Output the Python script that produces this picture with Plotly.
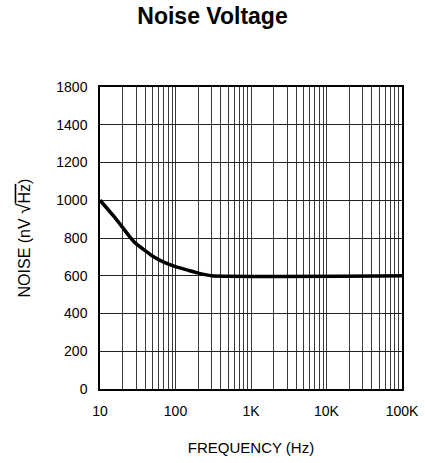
import plotly.graph_objects as go

# Data
freq_hz = [10, 15, 20, 25, 30, 40, 50, 70, 100, 150, 200, 300, 100000]
noise_nv = [1000, 918, 855, 805, 770, 732, 703, 672, 648, 628, 614, 600, 600]

x_tick_vals = [10, 100, 1000, 10000, 100000]
x_tick_text = ["10", "100", "1K", "10K", "100K"]
y_tick_vals = [0, 200, 400, 600, 800, 1000, 1200, 1400, 1600]
y_tick_text = ["0", "200", "400", "600", "800", "1000", "1200", "1400", "1800"]

minor_vals = [m * d for d in (10, 100, 1000, 10000) for m in range(2, 10)]

font_ticks = "Liberation Sans"
grid_col = "#3a3a3a"

fig = go.Figure()
fig.add_trace(go.Scatter(
    x=freq_hz, y=noise_nv, mode="lines",
    line=dict(color="black", width=3.5, shape="spline", smoothing=0.5),
    showlegend=False, hoverinfo="skip",
))

fig.update_layout(
    width=425, height=463,
    margin=dict(l=100, r=23, t=87, b=74),
    paper_bgcolor="white", plot_bgcolor="white",
    title=dict(text="<b>Noise Voltage</b>", x=0.5, xanchor="center",
               y=1 - 16 / 463, yanchor="middle",
               font=dict(family="Liberation Sans", size=23, color="black")),
    xaxis=dict(
        type="log", range=[1, 5],
        tickmode="array", tickvals=x_tick_vals, ticktext=x_tick_text,
        showgrid=True, gridcolor=grid_col, gridwidth=1,
        minor=dict(tickvals=minor_vals, showgrid=True, gridcolor=grid_col, gridwidth=1, ticklen=0),
        ticks="", showline=True, linecolor="black", linewidth=1.5, mirror=True,
        tickfont=dict(family=font_ticks, size=14, color="black"),
        ticklabelstandoff=8,
        title=dict(text="FREQUENCY (Hz)", standoff=25,
                   font=dict(family=font_ticks, size=15, color="black")),
        zeroline=False, fixedrange=True, automargin=False,
    ),
    yaxis=dict(
        range=[0, 1600],
        tickmode="array", tickvals=y_tick_vals, ticktext=y_tick_text,
        showgrid=True, gridcolor="#222", gridwidth=1,
        ticks="", showline=True, linecolor="black", linewidth=1.5, mirror=True,
        tickfont=dict(family=font_ticks, size=14, color="black"),
        ticklabelstandoff=8,
        title=dict(text="NOISE (nV <span style='font-size:19px'>√</span><span style='text-decoration:overline'>Hz</span>)", standoff=22,
                   font=dict(family=font_ticks, size=16, color="black")),
        zeroline=False, fixedrange=True, automargin=False,
    ),
)

fig.write_html("out.html", config={"displayModeBar": False},
               post_script="document.body.style.margin='0';")
